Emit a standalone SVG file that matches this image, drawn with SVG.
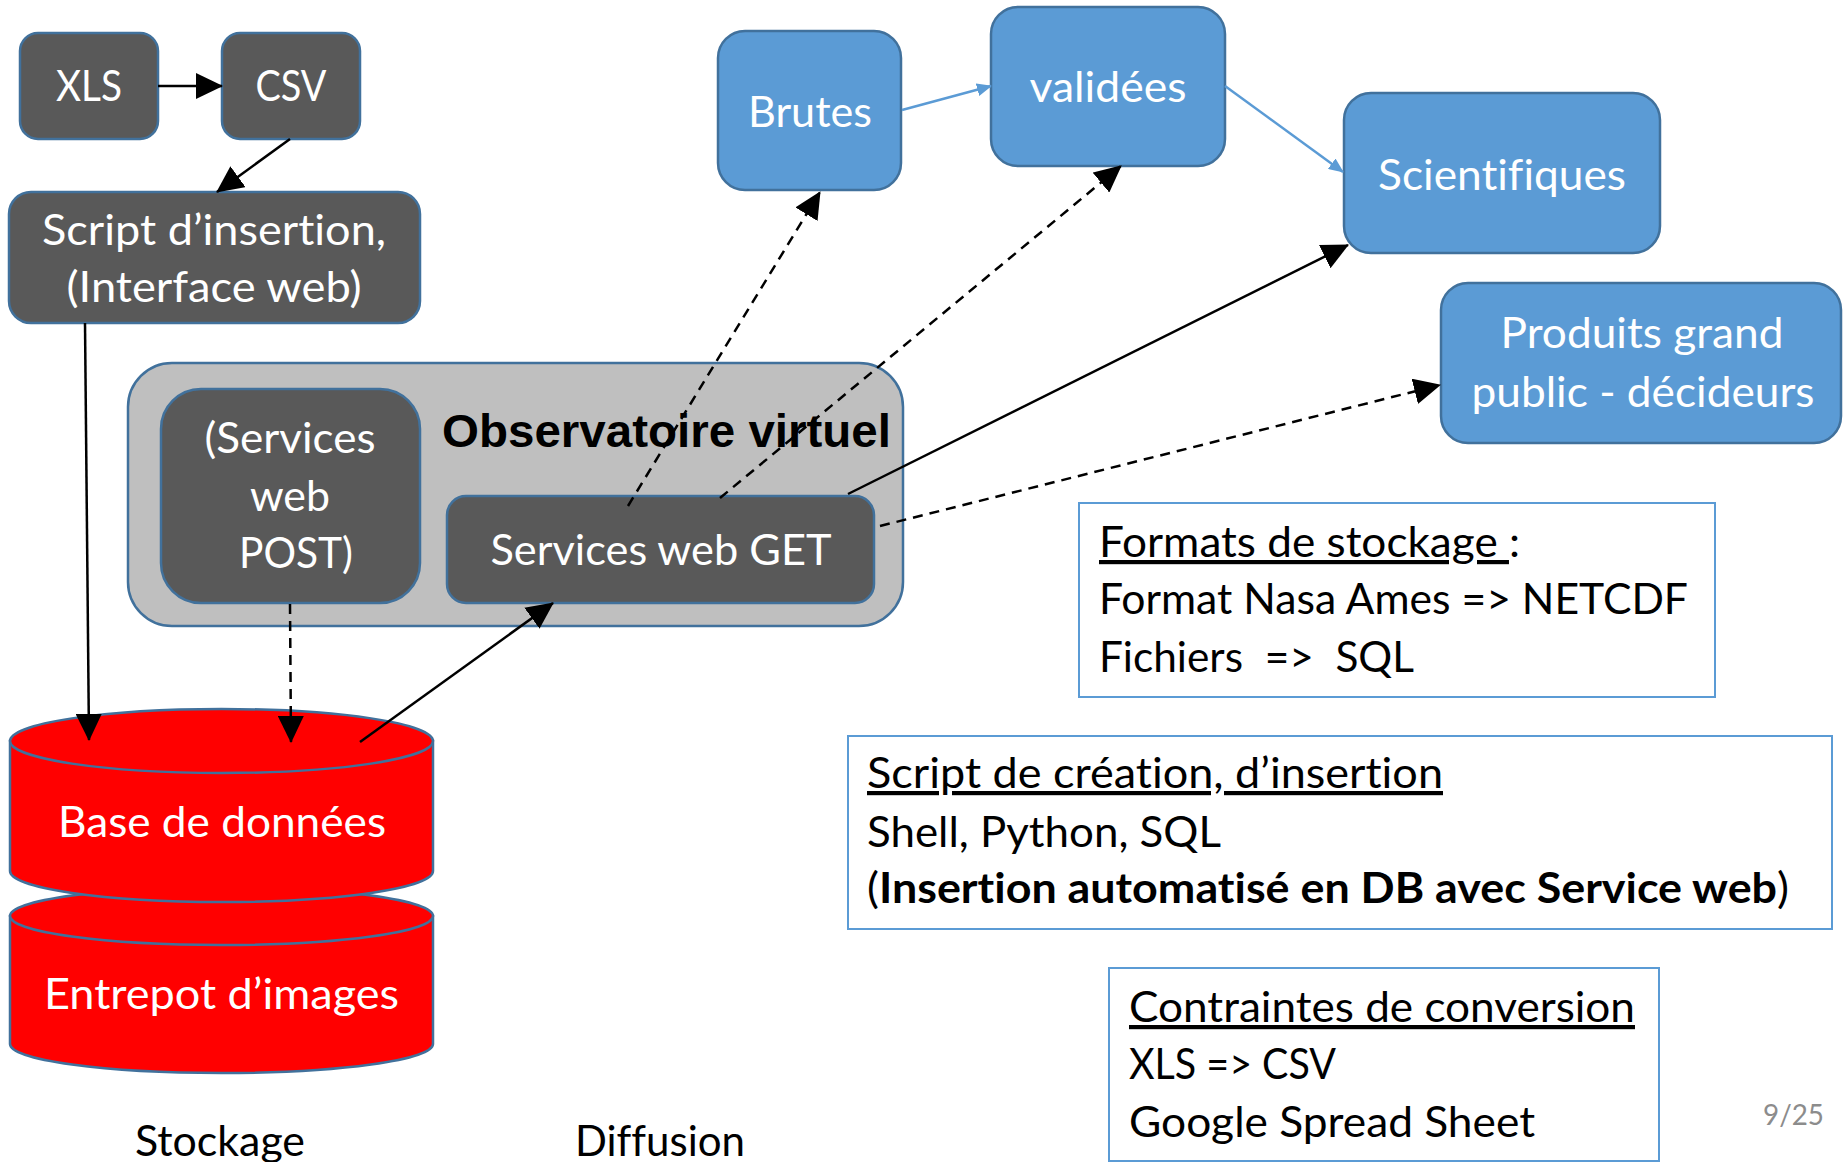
<svg xmlns="http://www.w3.org/2000/svg" width="1843" height="1162" viewBox="0 0 1843 1162">
<style>
.dark{fill:#595959;stroke:#41719C;stroke-width:2.5}
.blue{fill:#5B9BD5;stroke:#41719C;stroke-width:2.5}
.red{fill:#FF0000;stroke:#41719C;stroke-width:2.5}
.grey{fill:#BFBFBF;stroke:#41719C;stroke-width:2.5}
.note{fill:#FFFFFF;stroke:#5B9BD5;stroke-width:2}
text{font-variant-ligatures:none;font-feature-settings:"liga" 0,"clig" 0}
.wt{font-family:Lato,"Open Sans","Noto Sans",sans-serif;font-size:42px;fill:#FFFFFF;text-anchor:middle}
.bt{font-family:Lato,"Open Sans","Noto Sans",sans-serif;font-size:42px;fill:#000000}
.title{font-family:"Liberation Sans",Arial,sans-serif;font-weight:bold;font-size:47px;fill:#000000}
.conn{fill:none;stroke:#000000;stroke-width:2.5}
.dash{stroke-dasharray:10 7}
.bconn{fill:none;stroke:#5B9BD5;stroke-width:2.5}
</style>
<defs>
<marker id="ah" markerUnits="userSpaceOnUse" markerWidth="27" markerHeight="26" viewBox="0 0 27 26" refX="26" refY="13" orient="auto">
<path d="M0,0 L27,13 L0,26 Z" fill="#000000"/>
</marker>
<marker id="bah" markerUnits="userSpaceOnUse" markerWidth="15" markerHeight="13" viewBox="0 0 15 13" refX="14" refY="6.5" orient="auto">
<path d="M0,0 L15,6.5 L0,13 Z" fill="#5B9BD5"/>
</marker>
</defs>
<rect width="1843" height="1162" fill="#FFFFFF"/>

<g id="xls">
<rect class="dark" x="20" y="33" width="138" height="106" rx="18"/>
<text class="wt" x="89" y="101" textLength="66" lengthAdjust="spacingAndGlyphs">XLS</text>
</g>
<g id="csv">
<rect class="dark" x="222" y="33" width="138" height="106" rx="18"/>
<text class="wt" x="291" y="101" textLength="71" lengthAdjust="spacingAndGlyphs">CSV</text>
</g>
<g id="script">
<rect class="dark" x="9" y="192" width="411" height="131" rx="22"/>
<text class="wt" x="214" y="245" textLength="344" lengthAdjust="spacingAndGlyphs">Script d’insertion,</text>
<text class="wt" x="214" y="302" textLength="295" lengthAdjust="spacingAndGlyphs">(Interface web)</text>
</g>
<g id="observatoire">
<rect class="grey" x="128" y="363" width="775" height="263" rx="44"/>
<text class="title" x="442" y="447" textLength="449" lengthAdjust="spacingAndGlyphs">Observatoire virtuel</text>
</g>
<g id="post">
<rect class="dark" x="161" y="389" width="259" height="214" rx="40"/>
<text class="wt" x="290" y="453" textLength="171" lengthAdjust="spacingAndGlyphs">(Services</text>
<text class="wt" x="290" y="511" textLength="80" lengthAdjust="spacingAndGlyphs">web</text>
<text class="wt" x="296" y="568" textLength="114" lengthAdjust="spacingAndGlyphs">POST)</text>
</g>
<g id="get">
<rect class="dark" x="447" y="496" width="427" height="107" rx="19"/>
<text class="wt" x="661" y="565" textLength="341" lengthAdjust="spacingAndGlyphs">Services web GET</text>
</g>
<g id="entrepot">
<path class="red" d="M10,916 V1044 A211.5,29 0 0 0 433,1044 V916 Z"/>
<ellipse class="red" cx="221.5" cy="916" rx="211.5" ry="29"/>
<text class="wt" x="221.5" y="1009" textLength="355" lengthAdjust="spacingAndGlyphs">Entrepot d’images</text>
</g>
<g id="bdd">
<path class="red" d="M10,741 V871 A211.5,31 0 0 0 433,871 V741 Z"/>
<ellipse class="red" cx="221.5" cy="741" rx="211.5" ry="32"/>
<text class="wt" x="222" y="837" textLength="328" lengthAdjust="spacingAndGlyphs">Base de données</text>
</g>
<g id="brutes">
<rect class="blue" x="718" y="31" width="183" height="159" rx="27"/>
<text class="wt" x="810" y="127" textLength="124" lengthAdjust="spacingAndGlyphs">Brutes</text>
</g>
<g id="validees">
<rect class="blue" x="991" y="7" width="234" height="159" rx="27"/>
<text class="wt" x="1108" y="102" textLength="157" lengthAdjust="spacingAndGlyphs">validées</text>
</g>
<g id="scientifiques">
<rect class="blue" x="1344" y="93" width="316" height="160" rx="27"/>
<text class="wt" x="1502" y="190" textLength="248" lengthAdjust="spacingAndGlyphs">Scientifiques</text>
</g>
<g id="produits">
<rect class="blue" x="1441" y="283" width="400" height="160" rx="27"/>
<text class="wt" x="1642" y="348" textLength="283" lengthAdjust="spacingAndGlyphs">Produits grand</text>
<text class="wt" x="1643" y="407" textLength="343" lengthAdjust="spacingAndGlyphs">public - décideurs</text>
</g>

<g id="formats">
<rect class="note" x="1079" y="503" width="636" height="194"/>
<text class="bt" x="1099" y="557" textLength="421" lengthAdjust="spacingAndGlyphs"><tspan text-decoration="underline">Formats de stockage </tspan>:</text>
<text class="bt" x="1099" y="614" textLength="589" lengthAdjust="spacingAndGlyphs">Format Nasa Ames =&gt; NETCDF</text>
<text class="bt" x="1099" y="672" style="white-space:pre" textLength="315" lengthAdjust="spacingAndGlyphs">Fichiers  =&gt;  SQL</text>
</g>
<g id="scripts-note">
<rect class="note" x="848" y="736" width="984" height="193"/>
<text class="bt" x="867" y="788" text-decoration="underline" textLength="576" lengthAdjust="spacingAndGlyphs">Script de création, d’insertion</text>
<text class="bt" x="867" y="847" textLength="354" lengthAdjust="spacingAndGlyphs">Shell, Python, SQL</text>
<text class="bt" x="867" y="903" textLength="922" lengthAdjust="spacingAndGlyphs">(<tspan font-weight="bold">Insertion automatisé en DB avec Service web</tspan>)</text>
</g>
<g id="contraintes">
<rect class="note" x="1109" y="968" width="550" height="193"/>
<text class="bt" x="1129" y="1022" text-decoration="underline" textLength="506" lengthAdjust="spacingAndGlyphs">Contraintes de conversion</text>
<text class="bt" x="1129" y="1079" textLength="207" lengthAdjust="spacingAndGlyphs">XLS =&gt; CSV</text>
<text class="bt" x="1129" y="1137" textLength="406" lengthAdjust="spacingAndGlyphs">Google Spread Sheet</text>
</g>
<g id="labels">
<text class="bt" x="220" y="1156" text-anchor="middle" textLength="170" lengthAdjust="spacingAndGlyphs">Stockage</text>
<text class="bt" x="660" y="1156" text-anchor="middle" textLength="170" lengthAdjust="spacingAndGlyphs">Diffusion</text>
<text x="1763" y="1125" font-family="Lato,'Open Sans',sans-serif" font-size="29" fill="#8C8C8C" textLength="61" lengthAdjust="spacingAndGlyphs">9/25</text>
</g>

<g id="connectors">
<path class="conn" d="M158,86 L222,86" marker-end="url(#ah)"/>
<path class="conn" d="M290,139 L217,192" marker-end="url(#ah)"/>
<path class="conn" d="M85,323 L89,740" marker-end="url(#ah)"/>
<path class="conn dash" d="M290,604 L291,742" marker-end="url(#ah)"/>
<path class="conn" d="M360,742 L553,603" marker-end="url(#ah)"/>
<path class="conn dash" d="M628,506 L820,192" marker-end="url(#ah)"/>
<path class="conn dash" d="M720,498 L1121,166" marker-end="url(#ah)"/>
<path class="conn" d="M848,494 L1348,245" marker-end="url(#ah)"/>
<path class="conn dash" d="M880,526 L1440,385" marker-end="url(#ah)"/>
<path class="bconn" d="M902,110 L991,86" marker-end="url(#bah)"/>
<path class="bconn" d="M1225,86 L1343,172" marker-end="url(#bah)"/>
</g>
</svg>
